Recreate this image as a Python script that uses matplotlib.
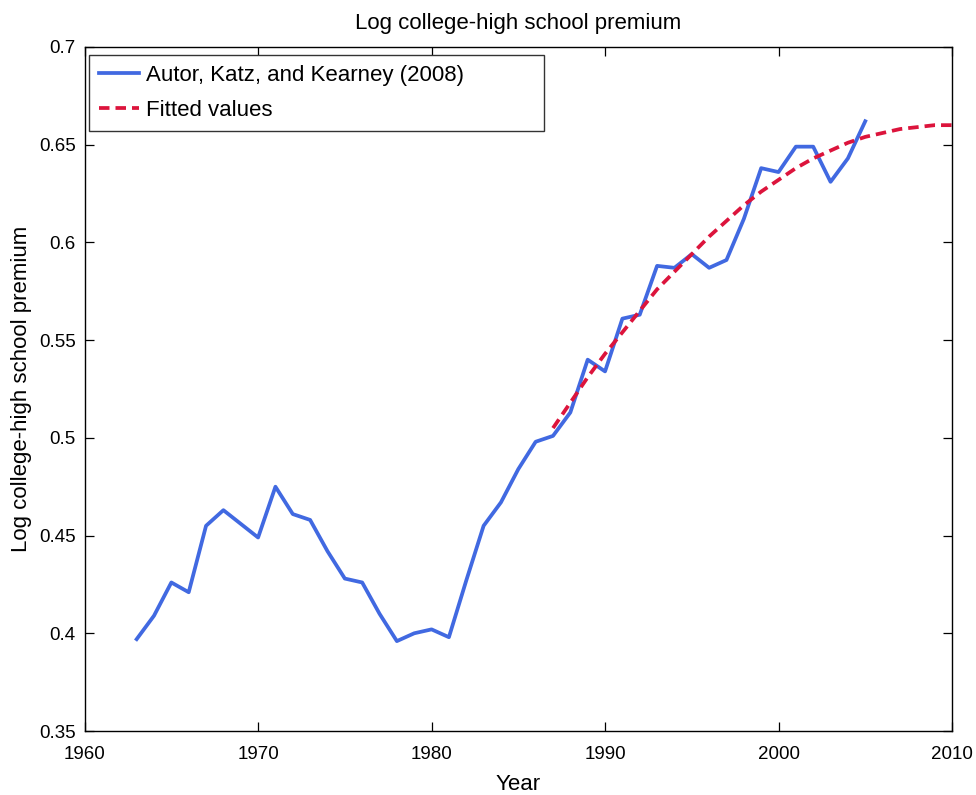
import matplotlib
matplotlib.use("Agg")
import matplotlib.pyplot as plt

plt.rcParams['font.family'] = ['Liberation Sans', 'DejaVu Sans']

# Autor, Katz and Kearney (2008) series
years = list(range(1963, 2006))
premium = [0.397, 0.409, 0.426, 0.421, 0.455, 0.463, 0.456, 0.449, 0.475, 0.461,
           0.458, 0.442, 0.428, 0.426, 0.410, 0.396, 0.400, 0.402, 0.398, 0.427,
           0.455, 0.467, 0.484, 0.498, 0.501, 0.513, 0.540, 0.534, 0.561, 0.563,
           0.588, 0.587, 0.594, 0.587, 0.591, 0.612, 0.638, 0.636, 0.649, 0.649,
           0.631, 0.643, 0.662]

# fitted values (dashed curve)
fit_years = list(range(1987, 2011))
fitted = [0.505, 0.518, 0.531, 0.543, 0.554, 0.565, 0.576, 0.585, 0.594, 0.603,
          0.611, 0.619, 0.626, 0.632, 0.638, 0.643, 0.647, 0.651, 0.654, 0.656,
          0.658, 0.659, 0.660, 0.660]

fig = plt.figure(figsize=(9.76, 7.95), dpi=100)
ax = fig.add_axes([0.0867, 0.0805, 0.8887, 0.8604])

ax.plot(years, premium, color='#4169E1', lw=2.7, label='Autor, Katz, and Kearney (2008)')
ax.plot(fit_years, fitted, color='#DC143C', lw=2.7, ls=(0, (2.8, 1.6)), label='Fitted values')

ax.set_xlim(1960, 2010)
ax.set_ylim(0.35, 0.7)
ax.set_xticks([1960, 1970, 1980, 1990, 2000, 2010])
ax.set_yticks([0.35, 0.4, 0.45, 0.5, 0.55, 0.6, 0.65, 0.7])
ax.set_yticklabels(['0.35', '0.4', '0.45', '0.5', '0.55', '0.6', '0.65', '0.7'])
ax.tick_params(direction='in', top=True, right=True, length=6.5, width=0.9,
               labelsize=13.5)
ax.tick_params(axis='x', pad=11)
ax.tick_params(axis='y', pad=6.5)
for s in ax.spines.values():
    s.set_linewidth(1.0)

ax.set_title('Log college-high school premium', fontsize=16, pad=13)
ax.set_xlabel('Year', fontsize=16, labelpad=8)
ax.set_ylabel('Log college-high school premium', fontsize=16, labelpad=5)

leg = ax.legend(loc='upper left', bbox_to_anchor=(0.005, 0.0, 0.525, 0.988),
                mode='expand', borderaxespad=0, fontsize=16, fancybox=False,
                framealpha=1, edgecolor='#333333', handlelength=1.8,
                handletextpad=0.3, borderpad=0.45, labelspacing=0.62)
leg.get_frame().set_linewidth(1.0)

fig.savefig('out.png', dpi=100)
